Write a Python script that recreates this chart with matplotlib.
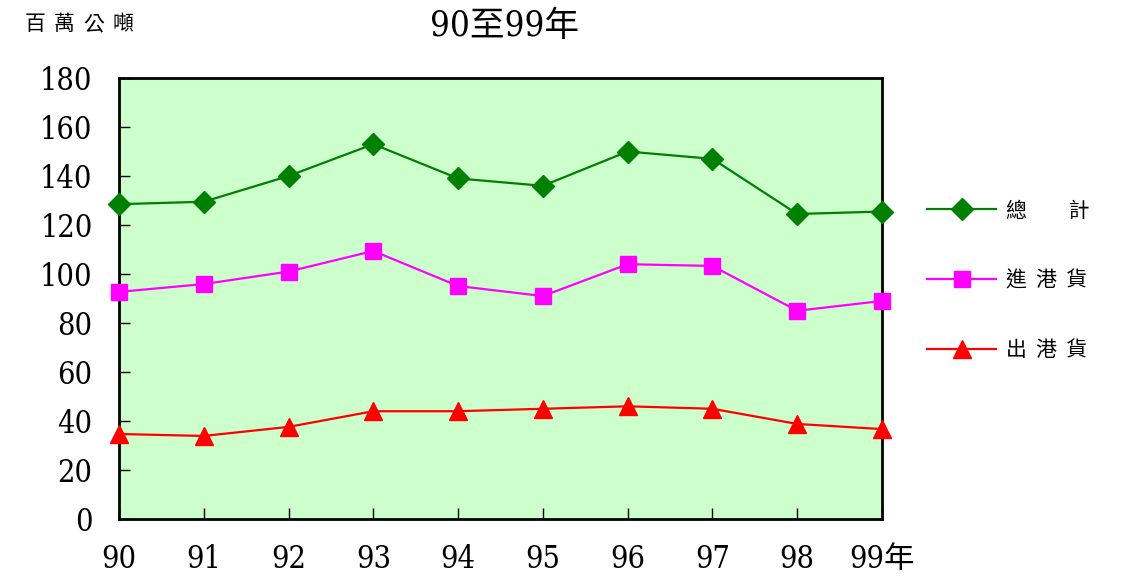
import matplotlib
matplotlib.use("Agg")
import matplotlib.pyplot as plt
from matplotlib.font_manager import FontProperties

years = ["90", "91", "92", "93", "94", "95", "96", "97", "98", "99年"]
total = [128.5, 129.5, 140, 153, 139, 136, 150, 147, 124.5, 125.5]
imports = [92.7, 95.9, 101, 109.4, 95.1, 91, 104, 103.3, 85, 89]
exports = [34.7, 33.9, 37.6, 44, 44, 45, 46, 45, 38.8, 36.7]
series_names = ["總　　計", "進  港  貨", "出  港  貨"]
unit_label = "百萬公噸"
title = "90至99年"
yticks = list(range(0, 181, 20))

num_family = ["DejaVu Serif", "Noto Sans CJK TC"]
cjk_family = ["Noto Sans CJK TC", "DejaVu Sans"]

fig = plt.figure(figsize=(11.29, 5.77), dpi=100)
ax = fig.add_axes([0.1054, 0.1005, 0.7812 - 0.1054, 0.8648 - 0.1005])
ax.set_facecolor("#CCFFCC")

x = list(range(len(years)))
ax.plot(x, total, color="#008000", lw=1.6, marker="D", ms=11, clip_on=False, zorder=3, label=series_names[0])
ax.plot(x, imports, color="#FF00FF", lw=1.6, marker="s", ms=12, clip_on=False, zorder=3, label=series_names[1])
ax.plot(x, exports, color="#FF0000", lw=1.6, marker="^", ms=13, clip_on=False, zorder=3, label=series_names[2])

ax.set_xlim(0, len(years) - 1)
ax.set_ylim(0, 180)
ax.set_yticks(yticks)
ax.set_yticklabels([str(v) for v in yticks])
ax.set_xticks(x)
ax.set_xticklabels(years)

for s in ax.spines.values():
    s.set_linewidth(2)
    s.set_color("black")

ax.tick_params(axis="y", direction="in", length=8, width=1, pad=19, left=True, right=False)
ax.tick_params(axis="x", direction="in", length=8, width=1, pad=18, bottom=True, top=False)
for lab in ax.get_yticklabels() + ax.get_xticklabels():
    lab.set_family(num_family)
    lab.set_fontsize(22)
    lab.set_fontstretch("condensed")

# unit label with wide character spacing
for i, ch in enumerate(unit_label):
    fig.text(0.022 + i * 0.0258, 0.958, ch, family=cjk_family, fontsize=15, va="center", ha="left")
fig.text(0.447, 0.955, title, family=num_family, fontsize=25, fontstretch="condensed",
         va="center", ha="center")

leg = ax.legend(loc="upper left", bbox_to_anchor=(1.035, 0.767), frameon=False,
                handlelength=3.3, handletextpad=0.45, labelspacing=2.3,
                prop=FontProperties(family=cjk_family, size=15))

fig.savefig("out.png", dpi=100)
